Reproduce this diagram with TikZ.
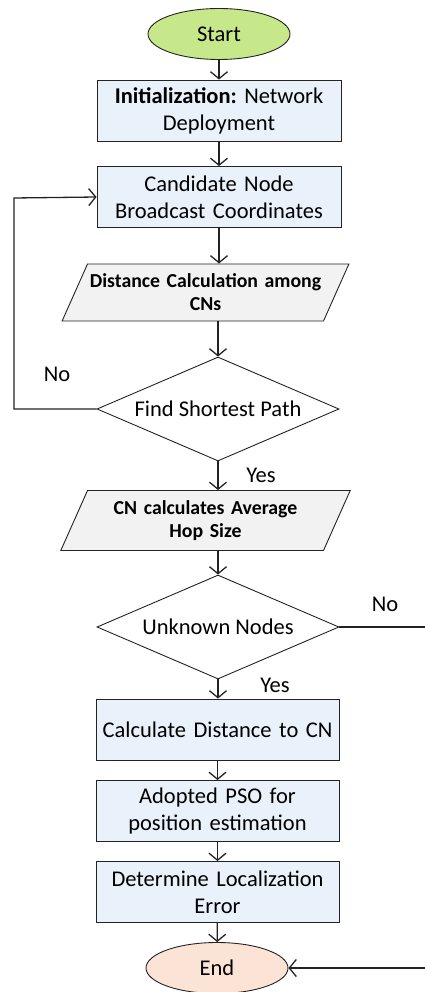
\documentclass[tikz,border=0pt]{standalone}
\usepackage{fontspec}
\setmainfont{Carlito}
\usetikzlibrary{shapes.geometric,arrows.meta}

\definecolor{startgreen}{RGB}{198,231,138}
\definecolor{endpeach}{RGB}{251,228,213}
\definecolor{stepblue}{RGB}{233,241,250}
\definecolor{iogray}{RGB}{242,242,242}
\definecolor{edgegray}{RGB}{35,35,35}

\tikzset{
  flow/.style={draw=edgegray,line width=1.3pt,-{Straight Barb[length=7pt,width=17pt,line width=1.3pt]}},
  wire/.style={draw=edgegray,line width=1.3pt},
  term/.style={ellipse,draw=edgegray,line width=0.9pt,minimum width=142pt,minimum height=51pt,
    font=\fontsize{22.5}{27}\selectfont},
  stepbox/.style={rectangle,draw=edgegray,line width=0.9pt,fill=stepblue,minimum width=244pt,
    minimum height=61pt,text width=238pt,align=center,inner sep=2pt,
    font=\fontsize{22.5}{27}\selectfont},
  iobox/.style={trapezium,trapezium left angle=66,trapezium right angle=114,
    trapezium stretches body,draw=edgegray,line width=0.9pt,fill=iogray,
    minimum width=285pt,text width=236pt,align=center,inner xsep=0pt,inner ysep=10pt,
    font=\fontsize{19.8}{23}\selectfont\bfseries},
  test/.style={diamond,aspect=2.33,draw=edgegray,line width=0.9pt,fill=white,
    minimum width=242pt,minimum height=104pt,inner sep=0pt,
    font=\fontsize{22.5}{27}\selectfont},
  tag/.style={font=\fontsize{22.5}{27}\selectfont}
}

\begin{document}
\begin{tikzpicture}[x=1pt,y=-1pt]
\useasboundingbox (0,0) rectangle (424,992);

\node[term,fill=startgreen] (start) at (219,34) {Start};
\node[stepbox] (init) at (219,110.5) {\textbf{Initialization:}\ Network\\Deployment};
\node[stepbox] (cand) at (219,197) {Candidate Node\\Broadcast Coordinates};
\node[iobox] (dist) at (205.5,292.5) {Distance Calculation among\\CNs};
\node[test] (find) at (218,409) {Find Shortest Path};
\node[iobox] (hop) at (205.5,520.5) {CN calculates Average\\Hop Size};
\node[test] (unk) at (218,627) {Unknown Nodes};
\node[stepbox,minimum width=243pt] (calc) at (217.5,729.5) {Calculate Distance to CN};
\node[stepbox,minimum width=243pt] (pso) at (217.5,811) {Adopted PSO for\\position estimation};
\node[stepbox,minimum width=243pt] (err) at (217.5,892) {Determine Localization\\Error};
\node[term,fill=endpeach] (end) at (217,968) {End};

% branch labels
\node[tag] (no1) at (57,374) {No};
\node[tag] (yes1) at (261,475) {Yes};
\node[tag] (no2) at (385,604) {No};
\node[tag] (yes2) at (275,685) {Yes};

% loop corners
\coordinate (lback) at (14,198);
\coordinate (rtop) at (430,627);
\coordinate (rbot) at (430,968);

\draw[flow] (start) -- (init);
\draw[flow] (init) -- (cand);
\draw[flow] (cand) -- (cand |- dist.north);
\draw[flow] (find |- dist.south) -- (find);
\draw[flow] (find) -- (find |- hop.north);
\draw[flow] (unk |- hop.south) -- (unk);
\draw[flow] (unk.south) -- (unk.south |- calc.north);
\draw[flow] (calc) -- (pso);
\draw[flow] (pso) -- (err);
\draw[flow] (err) -- (end);

\draw[flow] (find.west) -| (lback) -- (cand.west);
\draw[wire] (unk.east) -- (rtop) -- (rbot);
\draw[flow] (rbot) -- (end.east);
\end{tikzpicture}
\end{document}
